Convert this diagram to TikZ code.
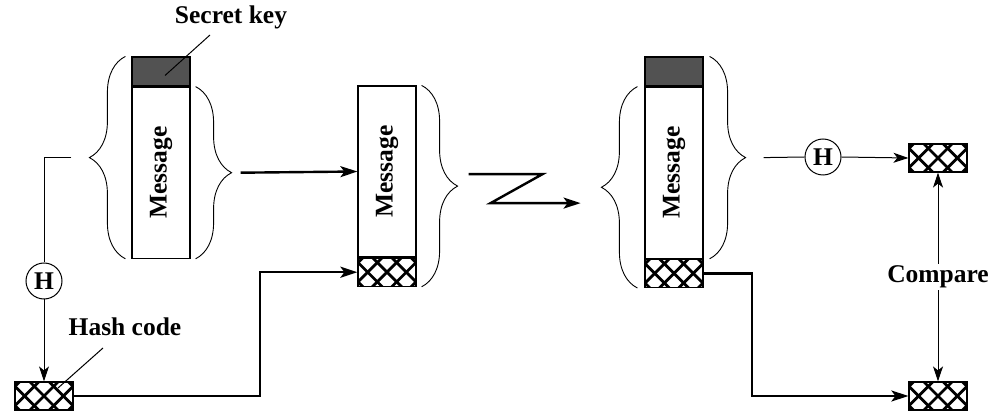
\documentclass[tikz,border=0pt]{standalone}
\usepackage{fontspec}
\setmainfont{Liberation Serif}
\usetikzlibrary{positioning,calc,arrows.meta,decorations.pathreplacing}

\tikzset{
  lbl/.style={font=\fontsize{25.5}{30}\selectfont\bfseries},
  blk/.style={draw,line width=1.2pt,minimum width=58pt,inner sep=0pt},
  keyblk/.style={blk,minimum height=29pt,fill=black!68},
  msgblk/.style={blk,minimum height=171pt,label={[lbl,rotate=90]center:Message}},
  hashblk/.style={blk,minimum height=28pt,
    path picture={
      \foreach \c in {-9.6,9.7,29,48.3,67.6}{
        \draw[line width=2.8pt] ($(path picture bounding box.south west)+(\c-24,-10)$) -- ++(48,48);
        \draw[line width=2.8pt] ($(path picture bounding box.south west)+(\c+24,-10)$) -- ++(-48,48);
      }
    }},
  brc/.style={decorate,decoration={brace,amplitude=36pt},line width=0.9pt},
  thinline/.style={line width=1pt},
  thinarrow/.style={line width=1pt,-{Stealth[length=15pt,width=10pt,inset=4pt]}},
  thickarrow/.style={line width=2.4pt,-{Stealth[length=17pt,width=11pt,inset=4pt]}},
  hcirc/.style={draw,circle,line width=1pt,minimum size=36pt,inner sep=0pt,lbl},
}

\begin{document}
\begin{tikzpicture}[x=1pt,y=1pt]
\useasboundingbox (0,0) rectangle (995,415);

    % Sender
    \node[keyblk] (key1) at (161,343.5) {};
    \node[msgblk, below=0pt of key1] (msg1) {};
    \node[hashblk] (hash0) at (44,19) {};
    \node[hcirc] (h1) at (44,134) {H};

    % Transmitted block
    \node[msgblk] (msg2) at (387,243.5) {};
    \node[hashblk, below=0pt of msg2] (hash2) {};

    % Receiver
    \node[keyblk] (key3) at (674,343.5) {};
    \node[msgblk, below=0pt of key3] (msg3) {};
    \node[hashblk, below=0pt of msg3] (hash3) {};
    \node[hcirc] (h3) at (823,258) {H};
    \node[hashblk] (hashA) at (938,257) {};
    \node[hashblk] (hashB) at (938,19) {};

    % Braces
    \draw[brc] ([xshift=-6pt]msg1.south west) -- ([xshift=-6pt]key1.north west);
    \draw[brc] ([xshift=5pt]msg1.north east) -- ([xshift=5pt]msg1.south east);
    \draw[brc] ([xshift=5pt]msg2.north east) -- ([xshift=5pt]hash2.south east);
    \draw[brc] ([xshift=-7pt]hash3.south west) -- ([xshift=-7pt]msg3.north west);
    \draw[brc] ([xshift=6pt]key3.north east) -- ([xshift=6pt]msg3.south east);

    % Brace tips
    \coordinate (t1) at ($(msg1.south west)!0.5!(key1.north west)+(-60,0)$);
    \coordinate (t2) at ($(msg1.east)+(50,0)$);
    \coordinate (m2) at ($(msg2.north east)!0.5!(hash2.south east)$);
    \coordinate (t4) at ($(m2)+(164,-17)$);
    \coordinate (t5) at ($(key3.north east)!0.5!(msg3.south east)+(60,0)$);
    \coordinate (bend1) at (260,0);
    \coordinate (bend2) at (752,0);

    % Sender paths
    \draw[thinline] (t1) -| (h1.north);
    \draw[thinarrow] (h1.south) -- (hash0.north);
    \draw[thickarrow] (t2) -- (msg2.west);
    \draw[thickarrow] (hash0.east) -| (bend1 |- hash2.west) -- (hash2.west);

    % Transmission
    \draw[thickarrow] ($(m2)+(52,12)$) -- ++(74,0) -- ++(-52,-29) -- (t4);

    % Receiver paths
    \draw[thinline] (t5) -- (h3.west);
    \draw[thinarrow] (h3.east) -- (hashA.west);
    \draw[thickarrow] (hash3.east) -| (bend2 |- hashB.west) -- (hashB.west);
    \draw[thinline,{Stealth[length=15pt,width=10pt,inset=4pt]}-{Stealth[length=15pt,width=10pt,inset=4pt]}]
      (hashA.south) -- node[lbl,fill=white,inner sep=2pt] (cmp) {Compare} (hashB.north);

    % Labels
    \node[lbl] (skey) at (231,398) {Secret key};
    \draw[thinline] ($(skey.center)+(-21,-18)$) -- ($(key1.center)+(4,-4)$);
    \node[lbl] (hcode) at (125,88) {Hash code};
    \draw[thinline] ($(hcode.center)+(-22,-21)$) -- ($(hash0.center)+(14,8)$);

\end{tikzpicture}
\end{document}
